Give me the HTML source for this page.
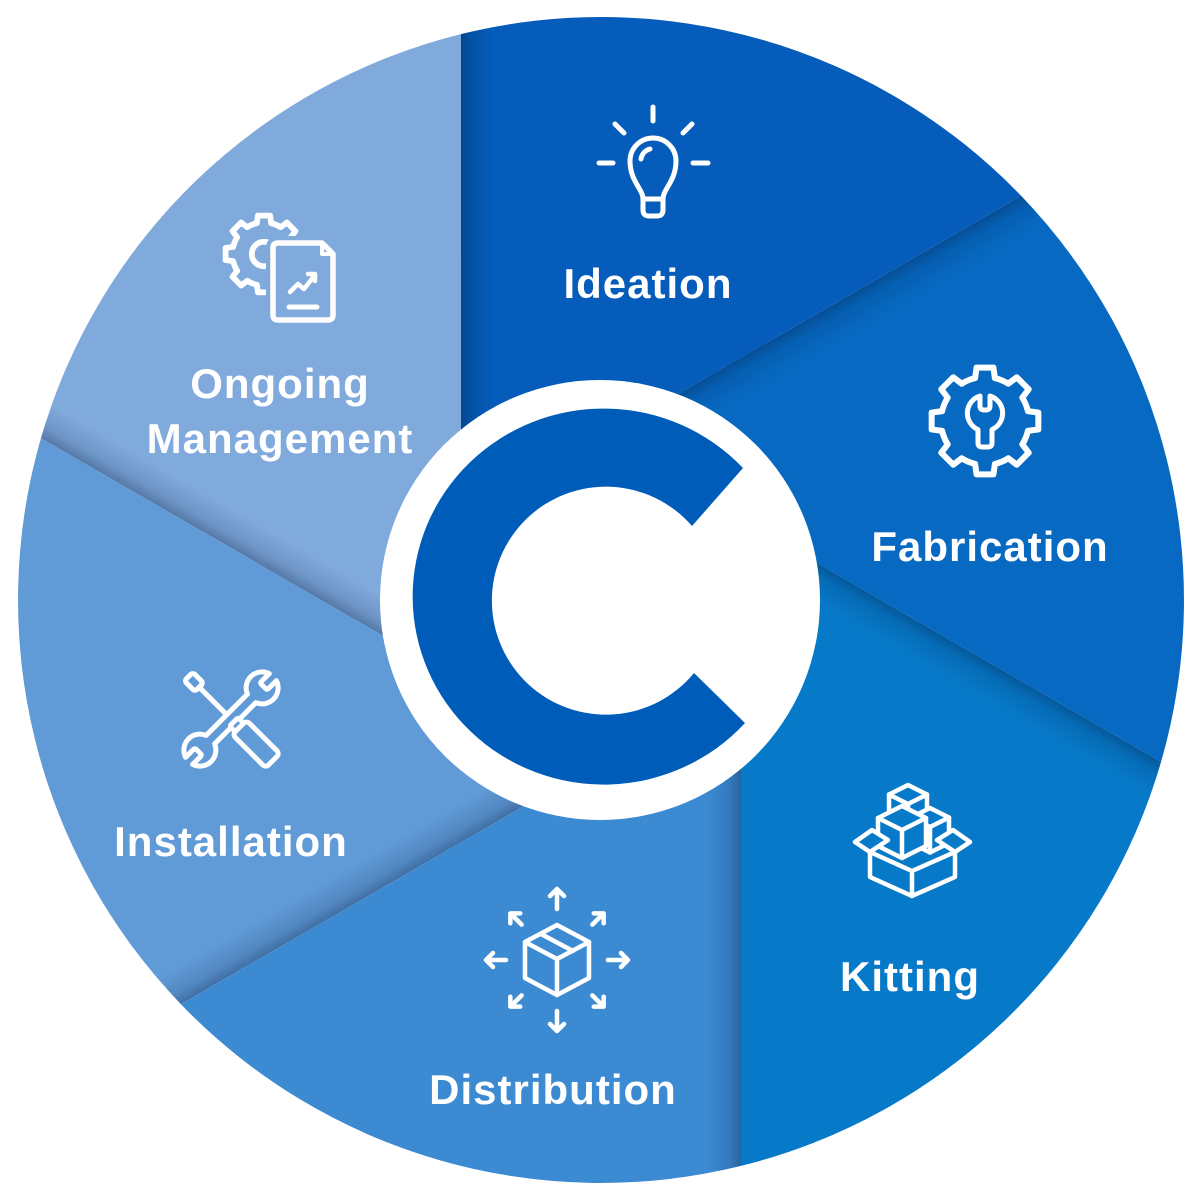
<!DOCTYPE html>
<html>
<head>
<meta charset="utf-8">
<style>
  html,body{margin:0;padding:0;background:#ffffff;width:1200px;height:1200px;overflow:hidden;}
  svg{display:block;}
  text{font-family:"Liberation Sans", Arial, sans-serif;font-weight:700;font-size:42px;fill:#ffffff;letter-spacing:1px;}
</style>
</head>
<body>
<svg width="1200" height="1200" viewBox="0 0 1200 1200" xmlns="http://www.w3.org/2000/svg">
  <defs>
    <linearGradient id="sh" x1="0" y1="0" x2="1" y2="0">
      <stop offset="0" stop-color="#001a40" stop-opacity="0.34"/>
      <stop offset="0.35" stop-color="#001a40" stop-opacity="0.14"/>
      <stop offset="1" stop-color="#001a40" stop-opacity="0"/>
    </linearGradient>
    <clipPath id="cp"><path d="M461 34.1 A583 583 0 0 1 1021.1 195.8 L461 519.2Z"/></clipPath>
  </defs>

  <rect width="1200" height="1200" fill="#ffffff"/>

  <!-- Segments -->
  <g>
    <g transform="rotate(0 601 600)">
      <path d="M461 34.1 A583 583 0 0 1 1021.1 195.8 L461 519.2Z" fill="#055cba"/>
      <rect x="461" y="30" width="34" height="560" fill="url(#sh)" clip-path="url(#cp)"/>
    </g>
    <g transform="rotate(60 601 600)">
      <path d="M461 34.1 A583 583 0 0 1 1021.1 195.8 L461 519.2Z" fill="#0769c2"/>
      <rect x="461" y="30" width="34" height="560" fill="url(#sh)" clip-path="url(#cp)"/>
    </g>
    <g transform="rotate(120 601 600)">
      <path d="M461 34.1 A583 583 0 0 1 1021.1 195.8 L461 519.2Z" fill="#0779c9"/>
      <rect x="461" y="30" width="34" height="560" fill="url(#sh)" clip-path="url(#cp)"/>
    </g>
    <g transform="rotate(180 601 600)">
      <path d="M461 34.1 A583 583 0 0 1 1021.1 195.8 L461 519.2Z" fill="#3b8ad2"/>
      <rect x="461" y="30" width="34" height="560" fill="url(#sh)" clip-path="url(#cp)"/>
    </g>
    <g transform="rotate(240 601 600)">
      <path d="M461 34.1 A583 583 0 0 1 1021.1 195.8 L461 519.2Z" fill="#609ad7"/>
      <rect x="461" y="30" width="34" height="560" fill="url(#sh)" clip-path="url(#cp)"/>
    </g>
    <g transform="rotate(300 601 600)">
      <path d="M461 34.1 A583 583 0 0 1 1021.1 195.8 L461 519.2Z" fill="#80a9dc"/>
      <rect x="461" y="30" width="34" height="560" fill="url(#sh)" clip-path="url(#cp)"/>
    </g>
  </g>

  <!-- Center circle and C -->
  <circle cx="600" cy="600" r="220" fill="#ffffff"/>
  <path d="M743 468 A191 188 0 1 0 745 723 L694 673 A114 114 0 1 1 692 526 Z" fill="#005cb9"/>

  <!-- Ideation bulb -->
  <g fill="none" stroke="#ffffff" stroke-width="5" stroke-linecap="round" stroke-linejoin="round">
    <line x1="653" y1="107" x2="653" y2="121"/>
    <line x1="599" y1="163" x2="613" y2="163"/>
    <line x1="693" y1="163" x2="708" y2="163"/>
    <line x1="615" y1="124" x2="624" y2="133"/>
    <line x1="692" y1="124" x2="683" y2="133"/>
    <path d="M643 199 C643 189 630 181 630 161 A23 23 0 1 1 676 161 C676 181 663 189 663 199 Z"/>
    <path d="M643 199 L643 210 Q643 216 649 216 L657 216 Q663 216 663 210 L663 199"/>
    <path d="M641 159 A12 12 0 0 1 650 149"/>
  </g>

  <!-- Fabrication gear + wrench -->
  <g fill="none" stroke="#ffffff" stroke-width="6" stroke-linecap="round" stroke-linejoin="round">
    <path d="M961.68 383.69 A44 44 0 0 1 975.10 378.13 L976.55 367.66 L993.45 367.66 L994.90 378.13"/>
    <path transform="rotate(45 985 421)" d="M961.68 383.69 A44 44 0 0 1 975.10 378.13 L976.55 367.66 L993.45 367.66 L994.90 378.13"/>
    <path transform="rotate(90 985 421)" d="M961.68 383.69 A44 44 0 0 1 975.10 378.13 L976.55 367.66 L993.45 367.66 L994.90 378.13"/>
    <path transform="rotate(135 985 421)" d="M961.68 383.69 A44 44 0 0 1 975.10 378.13 L976.55 367.66 L993.45 367.66 L994.90 378.13"/>
    <path transform="rotate(180 985 421)" d="M961.68 383.69 A44 44 0 0 1 975.10 378.13 L976.55 367.66 L993.45 367.66 L994.90 378.13"/>
    <path transform="rotate(225 985 421)" d="M961.68 383.69 A44 44 0 0 1 975.10 378.13 L976.55 367.66 L993.45 367.66 L994.90 378.13"/>
    <path transform="rotate(270 985 421)" d="M961.68 383.69 A44 44 0 0 1 975.10 378.13 L976.55 367.66 L993.45 367.66 L994.90 378.13"/>
    <path transform="rotate(315 985 421)" d="M961.68 383.69 A44 44 0 0 1 975.10 378.13 L976.55 367.66 L993.45 367.66 L994.90 378.13"/>
    <path stroke-width="5" d="M980 396 L980 406 Q980 410 984 410 L986 410 Q990 410 990 406 L990 396 A18 18 0 0 1 992 429.6 L992 443 Q992 447 988 447 L982 447 Q978 447 978 443 L978 429.6 A18 18 0 0 1 980 396 Z"/>
  </g>

  <!-- Kitting boxes -->
  <g fill="#0779c9" stroke="#ffffff" stroke-width="4.5" stroke-linecap="round" stroke-linejoin="round">
    <path d="M908 785 L927 794.5 L927 814 L908 823.5 L889 814 L889 794.5 Z"/>
    <path d="M889 794.5 L908 804 L927 794.5 M908 804 L908 823.5" fill="none"/>
    <path d="M930 808 L949 817.5 L949 843 L930 852.5 L911 843 L911 817.5 Z"/>
    <path d="M911 817.5 L930 827 L949 817.5 M930 827 L930 852.5" fill="none"/>
    <path d="M902 806 L926 818 L926 846 L902 858 L878 846 L878 818 Z"/>
    <path d="M878 818 L902 830 L926 818 M902 830 L902 858" fill="none"/>
    <path d="M870 852 L855 842 L872 830 L888 840 Z"/>
    <path d="M955 852 L970 842 L953 830 L937 840 Z"/>
    <path d="M870 852 L912 871 L955 852 L955 877 L912 896 L870 877 Z"/>
    <path d="M912 871 L912 896" fill="none"/>
  </g>

  <!-- Distribution -->
  <g fill="none" stroke="#ffffff" stroke-width="4.5" stroke-linecap="round" stroke-linejoin="round">
    <path d="M557 925 L589 942 L589 978 L557 995 L525 978 L525 942 Z"/>
    <path d="M525 942 L557 959 L589 942 M557 959 L557 995"/>
    <path d="M541 934 L573 951"/>
    <path d="M557 889 L557 909 M550 896 L557 889 L564 896"/>
    <path transform="rotate(90 557 960)" d="M557 889 L557 909 M550 896 L557 889 L564 896"/>
    <path transform="rotate(180 557 960)" d="M557 889 L557 909 M550 896 L557 889 L564 896"/>
    <path transform="rotate(270 557 960)" d="M557 889 L557 909 M550 896 L557 889 L564 896"/>
    <path transform="rotate(45 557 960)" d="M557 894 L557 910 M550 901 L557 894 L564 901"/>
    <path transform="rotate(135 557 960)" d="M557 894 L557 910 M550 901 L557 894 L564 901"/>
    <path transform="rotate(225 557 960)" d="M557 894 L557 910 M550 901 L557 894 L564 901"/>
    <path transform="rotate(315 557 960)" d="M557 894 L557 910 M550 901 L557 894 L564 901"/>
  </g>

  <!-- Installation: screwdriver + wrench -->
  <g stroke="#ffffff" stroke-width="5" stroke-linecap="round" stroke-linejoin="round">
    <g transform="translate(231 719) rotate(45)" fill="none">
      <rect x="-60" y="-6" width="15" height="12" rx="3"/>
      <line x1="-45" y1="0" x2="4" y2="0"/>
    </g>
    <g transform="translate(231 719) rotate(-45)">
      <path fill="#609ad7" d="M-29.17 -6 L29.17 -6 A16 16 0 0 1 59.2 -5 L48 -5 Q46 -5 46 -3 L46 3 Q46 5 48 5 L59.2 5 A16 16 0 0 1 29.17 6 L-29.17 6 A16 16 0 0 1 -59.2 5 L-48 5 Q-46 5 -46 3 L-46 -3 Q-46 -5 -48 -5 L-59.2 -5 A16 16 0 0 1 -29.17 -6 Z"/>
    </g>
    <g transform="translate(231 719) rotate(45)" fill="#609ad7">
      <rect x="4" y="-6" width="8" height="12" rx="2"/>
      <rect x="12" y="-10" width="47" height="20" rx="4"/>
    </g>
  </g>

  <!-- Ongoing management: gear + document -->
  <g fill="none" stroke="#ffffff" stroke-linecap="round" stroke-linejoin="round">
    <g transform="translate(264 254) scale(0.72) translate(-985 -421)" stroke-width="8">
      <path d="M961.68 383.69 A44 44 0 0 1 975.10 378.13 L976.55 367.66 L993.45 367.66 L994.90 378.13"/>
      <path transform="rotate(45 985 421)" d="M961.68 383.69 A44 44 0 0 1 975.10 378.13 L976.55 367.66 L993.45 367.66 L994.90 378.13"/>
      <path transform="rotate(90 985 421)" d="M961.68 383.69 A44 44 0 0 1 975.10 378.13 L976.55 367.66 L993.45 367.66 L994.90 378.13"/>
      <path transform="rotate(135 985 421)" d="M961.68 383.69 A44 44 0 0 1 975.10 378.13 L976.55 367.66 L993.45 367.66 L994.90 378.13"/>
      <path transform="rotate(180 985 421)" d="M961.68 383.69 A44 44 0 0 1 975.10 378.13 L976.55 367.66 L993.45 367.66 L994.90 378.13"/>
      <path transform="rotate(225 985 421)" d="M961.68 383.69 A44 44 0 0 1 975.10 378.13 L976.55 367.66 L993.45 367.66 L994.90 378.13"/>
      <path transform="rotate(270 985 421)" d="M961.68 383.69 A44 44 0 0 1 975.10 378.13 L976.55 367.66 L993.45 367.66 L994.90 378.13"/>
      <path transform="rotate(315 985 421)" d="M961.68 383.69 A44 44 0 0 1 975.10 378.13 L976.55 367.66 L993.45 367.66 L994.90 378.13"/>
      <circle cx="985" cy="421" r="17"/>
    </g>
    <path d="M278 243 L322 243 L333 254 L333 315 Q333 320 328 320 L278 320 Q273 320 273 315 L273 248 Q273 243 278 243 Z" fill="#80a9dc" stroke="#80a9dc" stroke-width="14"/>
    <path d="M278 243 L322 243 L333 254 L333 315 Q333 320 328 320 L278 320 Q273 320 273 315 L273 248 Q273 243 278 243 Z" stroke-width="5.5"/>
    <path d="M322 243 L322 254 L333 254" stroke-width="4"/>
    <path d="M290 292 L298 284 L304 289 L315 275" stroke-width="4.5"/>
    <path d="M308 274 L315 274 L315 281" stroke-width="4.5"/>
    <path d="M289 307 L317 307" stroke-width="5"/>
  </g>

  <!-- Labels -->
  <text x="648" y="298" text-anchor="middle">Ideation</text>
  <text x="990" y="561" text-anchor="middle">Fabrication</text>
  <text x="910" y="991" text-anchor="middle">Kitting</text>
  <text x="553" y="1104" text-anchor="middle">Distribution</text>
  <text x="231" y="856" text-anchor="middle">Installation</text>
  <text x="280" y="398" text-anchor="middle">Ongoing</text>
  <text x="280" y="453" text-anchor="middle">Management</text>
</svg>
</body>
</html>
